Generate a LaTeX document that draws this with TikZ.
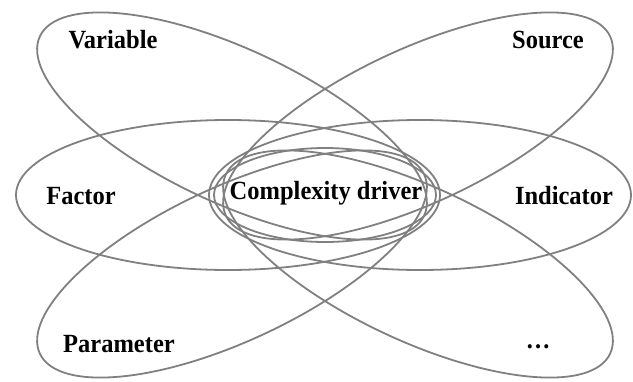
\documentclass[tikz,border=0pt]{standalone}
\usepackage{fontspec}
\setmainfont{Liberation Serif}
\definecolor{linegray}{RGB}{128,128,128}
\newcommand{\tallbox}[1]{\scalebox{1}[1.07]{#1}}
\begin{document}
\begin{tikzpicture}[x=1pt,y=-1pt,
  ell/.style={draw=linegray, line width=1.8pt},
  lbl/.style={font=\fontsize{24.5}{29}\selectfont\bfseries, inner sep=0pt, text=black}]
\useasboundingbox (0,0) rectangle (633,381);
% centres
\coordinate (cVar) at (232,126);
\coordinate (cSrc) at (418,126);
\coordinate (cPar) at (232,264);
\coordinate (cDot) at (418,264);
\coordinate (cFac) at (228,195);
\coordinate (cInd) at (420,195);
\coordinate (cCen) at (325,195);
% ellipses
\draw[ell, rotate around={-25:(cVar)}] (cVar) ellipse [x radius=212, y radius=77];
\draw[ell, rotate around={25:(cSrc)}] (cSrc) ellipse [x radius=212, y radius=77];
\draw[ell, rotate around={25:(cPar)}] (cPar) ellipse [x radius=212, y radius=77];
\draw[ell, rotate around={-25:(cDot)}] (cDot) ellipse [x radius=212, y radius=77];
\draw[ell] (cFac) ellipse [x radius=212, y radius=75];
\draw[ell] (cInd) ellipse [x radius=211, y radius=75];
\draw[ell] (cCen) ellipse [x radius=111, y radius=47];
% labels
\node[lbl] (variable) at (113,40) {\tallbox{Variable}};
\node[lbl] (source) at (548,40) {\tallbox{Source}};
\node[lbl] (factor) at (81,196) {\tallbox{Factor}};
\node[lbl] (indicator) at (564,196) {\tallbox{Indicator}};
\node[lbl] (parameter) at (119,344) {\tallbox{Parameter}};
\node[lbl] (dots) at (538,347) {\tallbox{\ldots}};
\node[lbl] (driver) at (326,193) {\tallbox{Complexity driver}};
\end{tikzpicture}
\end{document}
